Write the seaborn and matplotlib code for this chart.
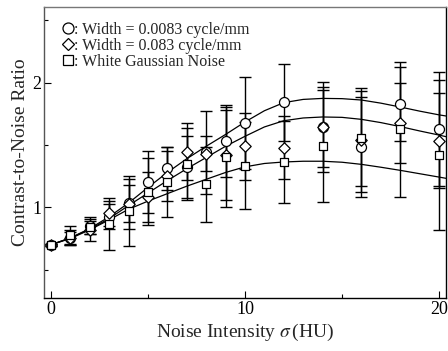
import numpy as np
import pandas as pd
import seaborn as sns
import matplotlib.pyplot as plt
from matplotlib.lines import Line2D

# measured points
sigma = [0, 1, 2, 3, 4, 5, 6, 7, 8, 9, 10, 12, 14, 16, 18, 20]
cnr_w1 = [0.70, 0.751, 0.853, 0.925, 1.032, 1.203, 1.313, 1.326, 1.441, 1.532, 1.679, 1.842, 1.642, 1.487, 1.829, 1.628]
err_w1 = [0.01, 0.05, 0.07, 0.10, 0.15, 0.25, 0.17, 0.25, 0.33, 0.29, 0.37, 0.31, 0.36, 0.40, 0.30, 0.46]
cnr_w2 = [0.70, 0.755, 0.818, 0.952, 1.027, 1.080, 1.250, 1.446, 1.430, 1.420, 1.490, 1.480, 1.647, 1.540, 1.674, 1.535]
err_w2 = [0.01, 0.06, 0.09, 0.10, 0.20, 0.20, 0.20, 0.23, 0.14, 0.36, 0.27, 0.25, 0.32, 0.42, 0.32, 0.38]
cnr_wgn = [0.70, 0.778, 0.840, 0.866, 0.973, 1.126, 1.206, 1.350, 1.184, 1.406, 1.334, 1.361, 1.495, 1.553, 1.626, 1.420]
err_wgn = [0.01, 0.07, 0.05, 0.21, 0.28, 0.27, 0.28, 0.29, 0.30, 0.40, 0.35, 0.33, 0.45, 0.38, 0.54, 0.60]

# fitted curves
sigma_fit = [0, 1, 2, 3, 4, 5, 6, 7, 8, 9, 10, 11, 12, 13, 14, 15, 16, 17, 18, 19, 20, 20.36]
fit_w1 = [0.70, 0.755, 0.83, 0.925, 1.035, 1.16, 1.28, 1.39, 1.49, 1.585, 1.685, 1.775, 1.84, 1.866, 1.874,
          1.872, 1.861, 1.836, 1.805, 1.772, 1.742, 1.733]
fit_w2 = [0.70, 0.755, 0.825, 0.91, 1.015, 1.115, 1.215, 1.31, 1.40, 1.49, 1.57, 1.645, 1.695, 1.717, 1.725,
          1.722, 1.706, 1.680, 1.648, 1.613, 1.580, 1.567]
fit_wgn = [0.70, 0.75, 0.82, 0.90, 0.985, 1.05, 1.11, 1.17, 1.225, 1.28, 1.325, 1.352, 1.364, 1.37, 1.37,
           1.362, 1.345, 1.322, 1.297, 1.27, 1.243, 1.233]

labels = [': Width = 0.0083 cycle/mm', ': Width = 0.083 cycle/mm', ': White Gaussian Noise']
markers = ['o', 'D', 's']
msizes = [7.2, 5.8, 6.4]

sns.set_theme(style='white')
plt.rcParams['font.family'] = ['Liberation Serif', 'DejaVu Serif']
plt.rcParams['mathtext.fontset'] = 'stix'

fig = plt.figure(figsize=(4.48, 3.51), dpi=100)
ax = fig.add_axes([0.0982, 0.151, 0.8973, 0.829])

# error bars
for y, e in [(cnr_w1, err_w1), (cnr_w2, err_w2), (cnr_wgn, err_wgn)]:
    ax.errorbar(sigma, y, yerr=e, fmt='none', ecolor='black', elinewidth=1.0,
                capsize=4.3, capthick=1.0, zorder=2)

# fitted curves
fits = pd.DataFrame({'sigma': sigma_fit * 3,
                     'cnr': fit_w1 + fit_w2 + fit_wgn,
                     'series': ['w1'] * len(sigma_fit) + ['w2'] * len(sigma_fit) + ['wgn'] * len(sigma_fit)})
sns.lineplot(data=fits, x='sigma', y='cnr', units='series', estimator=None, color='black',
             linewidth=0.9, ax=ax, zorder=3)

# markers
for y, m, ms in zip([cnr_w1, cnr_w2, cnr_wgn], markers, msizes):
    sns.scatterplot(x=sigma, y=y, marker=m, s=ms ** 2, facecolor='white', edgecolor='black',
                    linewidth=0.9, ax=ax, zorder=4)

ax.set_xlim(-0.36, 20.36)
ax.set_ylim(0.273, 2.607)
ax.set_xticks([0, 10, 20])
ax.set_xticks([5, 15], minor=True)
ax.set_yticks([1, 2])
ax.set_yticks([0.5, 1.5, 2.5], minor=True)
ax.tick_params(which='both', direction='in', bottom=True, left=True, top=False, right=False,
               labelsize=13, colors='black', pad=2)
ax.tick_params(which='major', length=5, width=0.8)
ax.tick_params(which='minor', length=3, width=0.8)
for s in ax.spines.values():
    s.set_visible(True)
    s.set_linewidth(1.0)
    s.set_color('black')
ax.spines['left'].set_color('#555555')
ax.spines['top'].set_color('#777777')

ax.set_xlabel(r'Noise Intensity $\sigma\,$(HU)', fontsize=14, labelpad=3)
ax.set_ylabel('Contrast-to-Noise Ratio', fontsize=14, labelpad=2)

handles = [Line2D([], [], linestyle='none', marker=m, markersize=ms * 1.1, markerfacecolor='white',
                  markeredgecolor='black', markeredgewidth=0.9) for m, ms in zip(markers, msizes)]
ax.legend(handles, labels, loc='upper left', frameon=False, fontsize=11.5, handlelength=0.7,
          handletextpad=0.05, labelspacing=0.0, borderpad=0, borderaxespad=0,
          bbox_to_anchor=(0.045, 0.95))

fig.savefig('out.png', dpi=100)
